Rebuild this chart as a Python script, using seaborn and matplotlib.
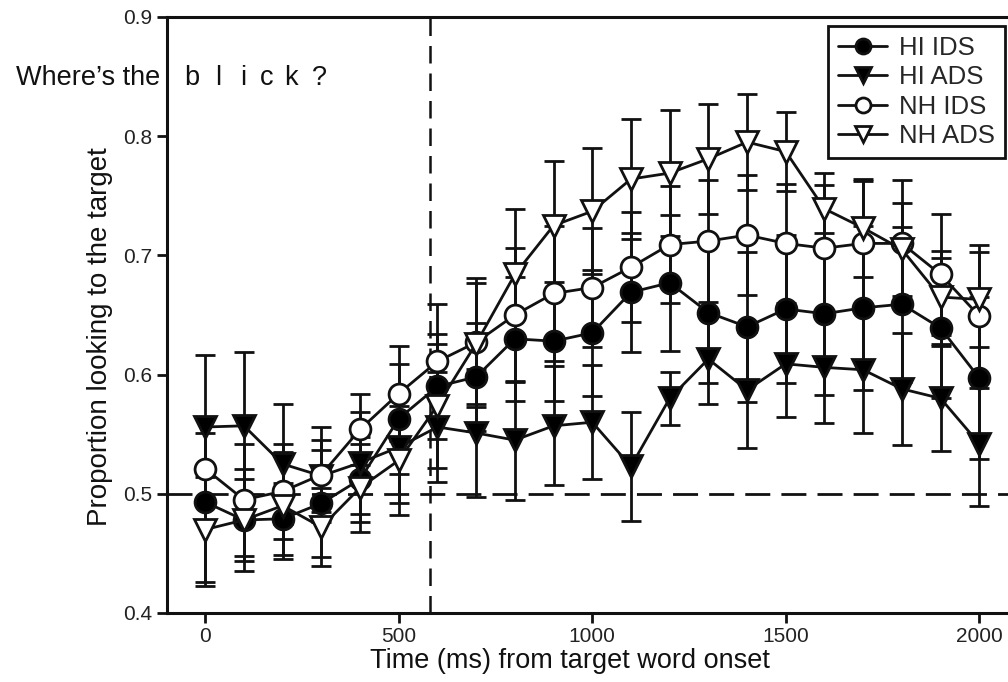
import pandas as pd
import seaborn as sns
import matplotlib.pyplot as plt

# time bins (ms from target word onset)
times = [0, 100, 200, 300, 400, 500, 600, 700, 800, 900, 1000,
         1100, 1200, 1300, 1400, 1500, 1600, 1700, 1800, 1900, 2000]

hi_ids = [0.493, 0.478, 0.479, 0.492, 0.512, 0.563, 0.590, 0.598, 0.630, 0.628, 0.635,
          0.669, 0.677, 0.652, 0.640, 0.655, 0.651, 0.656, 0.659, 0.639, 0.597]
hi_ids_err = [0.070, 0.034, 0.030, 0.045, 0.036, 0.046, 0.044, 0.045, 0.052, 0.050, 0.053,
              0.050, 0.057, 0.059, 0.063, 0.062, 0.068, 0.069, 0.065, 0.059, 0.068]

hi_ads = [0.556, 0.557, 0.525, 0.515, 0.526, 0.539, 0.556, 0.551, 0.545, 0.557, 0.560,
          0.523, 0.580, 0.613, 0.587, 0.609, 0.606, 0.604, 0.588, 0.580, 0.542]
hi_ads_err = [0.060, 0.062, 0.050, 0.030, 0.043, 0.047, 0.046, 0.054, 0.050, 0.050, 0.048,
              0.046, 0.022, 0.038, 0.049, 0.045, 0.047, 0.053, 0.047, 0.044, 0.052]

nh_ids = [0.521, 0.495, 0.502, 0.516, 0.554, 0.584, 0.611, 0.627, 0.650, 0.668, 0.673,
          0.690, 0.709, 0.712, 0.717, 0.710, 0.706, 0.710, 0.710, 0.684, 0.649]
nh_ids_err = [0.030, 0.047, 0.040, 0.040, 0.030, 0.040, 0.048, 0.054, 0.056, 0.057, 0.050,
              0.046, 0.049, 0.051, 0.050, 0.050, 0.053, 0.052, 0.053, 0.051, 0.060]

nh_ads = [0.470, 0.478, 0.490, 0.472, 0.505, 0.528, 0.574, 0.626, 0.684, 0.725, 0.737,
          0.764, 0.769, 0.781, 0.795, 0.787, 0.739, 0.723, 0.705, 0.665, 0.663]
nh_ads_err = [0.044, 0.043, 0.045, 0.033, 0.037, 0.046, 0.052, 0.051, 0.055, 0.054, 0.053,
              0.050, 0.053, 0.046, 0.040, 0.033, 0.030, 0.041, 0.039, 0.039, 0.040]

x_ticks = [0, 500, 1000, 1500, 2000]
y_ticks = [0.4, 0.5, 0.6, 0.7, 0.8, 0.9]
prompt_letters = ["b", "l", "i", "c", "k", "?"]

sns.set_style("ticks")
plt.rcParams["font.family"] = ["Liberation Sans", "DejaVu Sans"]

fig = plt.figure(figsize=(10.08, 6.82), dpi=100)
# axes runs past the right edge of the figure, like the cropped original
ax = fig.add_axes([0.1652, 0.1012, 0.8447, 0.874])

series = [
    ("HI IDS", hi_ids, hi_ids_err, "o", "black", 15),
    ("HI ADS", hi_ads, hi_ads_err, "v", "black", 16.5),
    ("NH IDS", nh_ids, nh_ids_err, "o", "white", 15),
    ("NH ADS", nh_ads, nh_ads_err, "v", "white", 16.5),
]

for name, vals, errs, mk, face, ms in series:
    ax.errorbar(times, vals, yerr=errs, fmt="none", ecolor="#111111",
                elinewidth=2.0, capsize=7, capthick=2.0, zorder=2)

for name, vals, errs, mk, face, ms in series:
    df = pd.DataFrame({"time": times, "value": vals})
    sns.lineplot(data=df, x="time", y="value", ax=ax, color="#111111",
                 linewidth=2.0, marker=mk, markersize=ms, markerfacecolor=face,
                 markeredgecolor="#111111", markeredgewidth=2.0,
                 label=name, errorbar=None, zorder=3)

ax.axhline(0.5, color="#111111", linewidth=2.0, dashes=(9, 4), zorder=1)
ax.axvline(580, color="#111111", linewidth=1.8, dashes=(7, 4), zorder=1)

ax.set_xlim(-100, 2100)
ax.set_ylim(0.4, 0.9)
ax.set_xticks(x_ticks)
ax.set_yticks(y_ticks)
ax.set_yticklabels([f"{v:.1f}" for v in y_ticks])
ax.tick_params(axis="both", direction="out", length=7, width=2.0,
               labelsize=15, colors="#111111", labelcolor="#222222", pad=3)

for side in ["left", "bottom", "top", "right"]:
    ax.spines[side].set_linewidth(2.2)
    ax.spines[side].set_color("#111111")

ax.set_xlabel("Time (ms) from target word onset", fontsize=19.5, color="#111111")
ax.set_ylabel("Proportion looking to the target", fontsize=20, color="#111111")
ax.xaxis.set_label_coords(0.474, -0.058)
ax.yaxis.set_label_coords(-0.063, 0.463)

# "Where's the  b l i c k ?" prompt
fig.text(160 / 1008, 1 - 85 / 682, "Where\u2019s the", ha="right", va="baseline",
         fontsize=19.5, color="#111111")
letter_x = [192, 218, 243, 267, 291, 319]
for ch, px in zip(prompt_letters, letter_x):
    fig.text(px / 1008, 1 - 85 / 682, ch, ha="center", va="baseline",
             fontsize=19.5, color="#111111")

handles, labels = ax.get_legend_handles_labels()
leg = ax.legend(handles, labels, loc="upper right",
                bbox_to_anchor=(1005 / 1008, 1 - 26 / 682),
                bbox_transform=fig.transFigure, borderaxespad=0,
                fontsize=18.5, frameon=True, fancybox=False,
                markerscale=0.72, handlelength=1.9, handletextpad=0.45,
                labelspacing=0.2, borderpad=0.4)
leg.get_frame().set_edgecolor("#111111")
leg.get_frame().set_linewidth(2.0)
leg.get_frame().set_alpha(1)

fig.savefig("out.png", dpi=100)
